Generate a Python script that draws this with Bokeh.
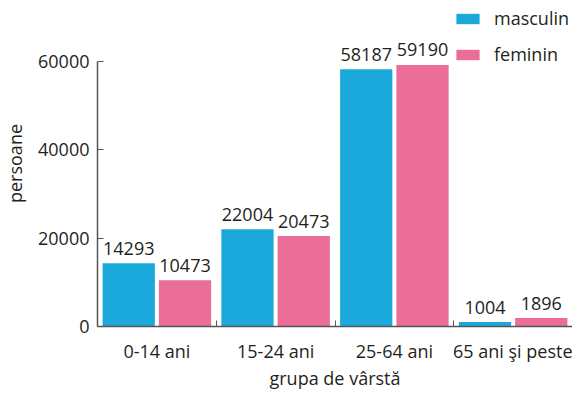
import numpy as np
from bokeh.plotting import figure
from bokeh.models import Range1d, FixedTicker, ColumnDataSource, Legend, LegendItem
from bokeh.core.properties import value
from bokeh.embed import file_html
from bokeh.resources import INLINE

categories = ["0-14 ani", "15-24 ani", "25-64 ani", "65 ani şi peste"]
masculin = [14293, 22004, 58187, 1004]
feminin = [10473, 20473, 59190, 1896]
y_ticks = [0, 20000, 40000, 60000]
series_names = ["masculin", "feminin"]

BLUE = "#1ba9dc"
PINK = "#ea6e97"
TXT = "#231f20"
AX = "#555555"
FONT = "Open Sans"
FS = "18px"

p = figure(width=572, height=392, output_backend="svg", toolbar_location=None,
           x_range=Range1d(0, len(categories)), y_range=Range1d(0, 73759),
           min_border_left=92, min_border_right=0, min_border_top=0, min_border_bottom=60)
p.outline_line_color = None
p.grid.visible = False
p.background_fill_color = "white"

idx = np.arange(len(categories)) + 0.5
off = 0.237
w = 0.44
src_m = ColumnDataSource(dict(x=idx - off, top=masculin, lab=[str(v) for v in masculin]))
src_f = ColumnDataSource(dict(x=idx + off, top=feminin, lab=[str(v) for v in feminin]))

r_m = p.vbar(x="x", top="top", width=w, source=src_m, fill_color=BLUE, line_color=None)
r_f = p.vbar(x="x", top="top", width=w, source=src_f, fill_color=PINK, line_color=None)

for src in (src_m, src_f):
    p.text(x="x", y="top", text="lab", source=src, text_align="center",
           text_baseline="alphabetic", y_offset=-15, text_font=value(FONT),
           text_font_size=FS, text_color=TXT)

# x axis
xa = p.xaxis[0]
xa.ticker = FixedTicker(ticks=list(idx), minor_ticks=[1, 2, 3, 4])
xa.major_label_overrides = {float(v): c for v, c in zip(idx, categories)}
xa.major_tick_line_color = None
xa.major_tick_in = 0
xa.major_tick_out = 0
xa.minor_tick_in = 6
xa.minor_tick_out = 0
xa.minor_tick_line_color = AX
xa.axis_line_color = AX
xa.axis_line_width = 1.5
xa.major_label_standoff = 12
xa.major_label_text_font = FONT
xa.major_label_text_font_size = FS
xa.major_label_text_color = TXT
xa.axis_label = "grupa de vârstă"
xa.axis_label_text_font = FONT
xa.axis_label_text_font_size = FS
xa.axis_label_text_font_style = "normal"
xa.axis_label_text_color = TXT
xa.axis_label_standoff = 0

# y axis
ya = p.yaxis[0]
ya.ticker = FixedTicker(ticks=y_ticks)
ya.bounds = (0, 60000)
ya.major_tick_in = 6
ya.major_tick_out = 0
ya.minor_tick_line_color = None
ya.major_tick_line_color = AX
ya.axis_line_color = AX
ya.axis_line_width = 1.5
ya.major_label_standoff = 8
ya.major_label_text_font = FONT
ya.major_label_text_font_size = FS
ya.major_label_text_color = TXT
ya.axis_label = "persoane"
ya.axis_label_text_font = FONT
ya.axis_label_text_font_size = FS
ya.axis_label_text_font_style = "normal"
ya.axis_label_text_color = TXT
ya.axis_label_standoff = 8

legend = Legend(items=[LegendItem(label=series_names[0], renderers=[r_m]),
                       LegendItem(label=series_names[1], renderers=[r_f])],
                location=(356, 260), border_line_color=None, background_fill_alpha=0,
                glyph_width=29, glyph_height=13, label_standoff=12, spacing=12,
                label_height=22, padding=0, margin=0,
                label_text_font=FONT, label_text_font_size=FS, label_text_color=TXT)
p.add_layout(legend)

open("out.html", "w").write(file_html(p, INLINE))
